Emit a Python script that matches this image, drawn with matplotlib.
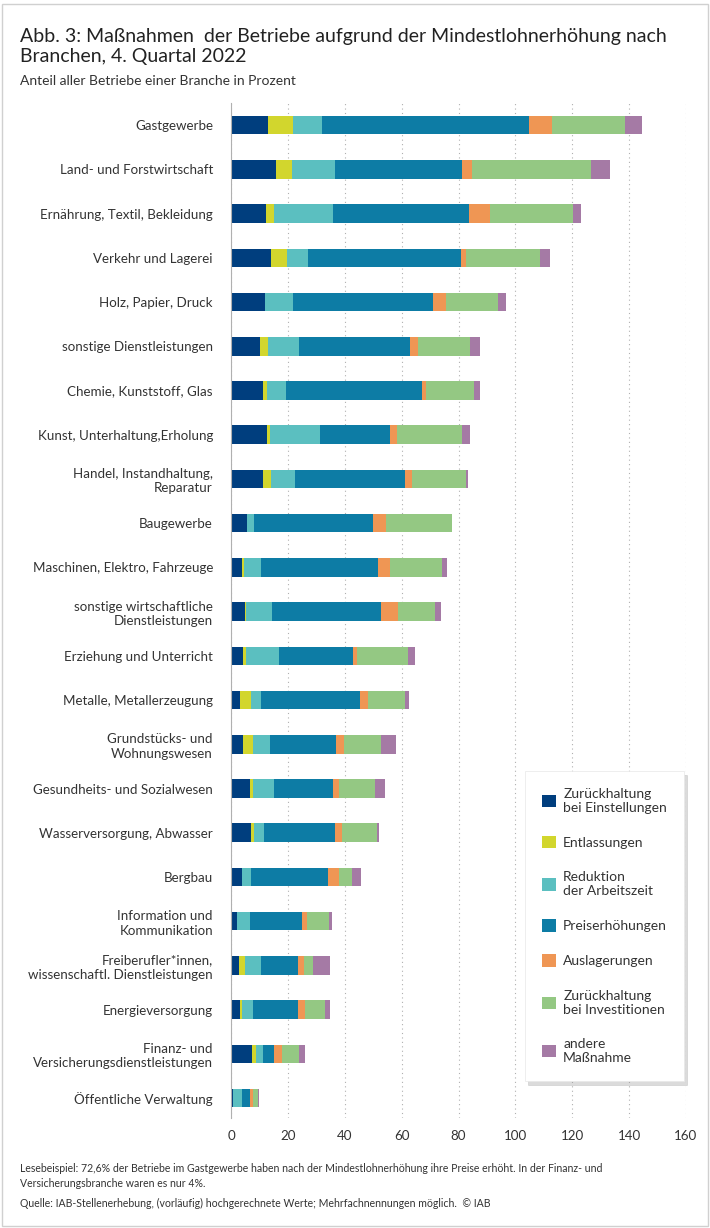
import matplotlib.pyplot as plt
from matplotlib.patches import Rectangle
import numpy as np

plt.rcParams['font.family'] = ['Lato', 'DejaVu Sans']

branchen = ['Gastgewerbe', 'Land- und Forstwirtschaft', 'Ernährung, Textil, Bekleidung',
            'Verkehr und Lagerei', 'Holz, Papier, Druck', 'sonstige Dienstleistungen',
            'Chemie, Kunststoff, Glas', 'Kunst, Unterhaltung,Erholung',
            'Handel, Instandhaltung,\nReparatur', 'Baugewerbe', 'Maschinen, Elektro, Fahrzeuge',
            'sonstige wirtschaftliche\nDienstleistungen', 'Erziehung und Unterricht',
            'Metalle, Metallerzeugung', 'Grundstücks- und\nWohnungswesen',
            'Gesundheits- und Sozialwesen', 'Wasserversorgung, Abwasser', 'Bergbau',
            'Information und\nKommunikation', 'Freiberufler*innen,\nwissenschaftl. Dienstleistungen',
            'Energieversorgung', 'Finanz- und\nVersicherungsdienstleistungen',
            'Öffentliche Verwaltung']

massnahmen = ['Zurückhaltung\nbei Einstellungen', 'Entlassungen', 'Reduktion\nder Arbeitszeit',
              'Preiserhöhungen', 'Auslagerungen', 'Zurückhaltung\nbei Investitionen',
              'andere\nMaßnahme']

einstellungen = [13.1, 15.8, 12.2, 14.1, 12.1, 10.3, 11.2, 12.5, 11.2, 5.7, 3.9, 4.8, 4.2,
                 3.3, 4.3, 6.8, 7.1, 3.9, 2.2, 2.9, 3.3, 7.5, 0.7]
entlassungen = [8.7, 5.6, 2.9, 5.6, 0.0, 2.8, 1.6, 1.3, 2.9, 0.0, 0.6, 0.6, 1.2,
                3.7, 3.4, 1.0, 1.1, 0.0, 0.0, 2.1, 0.7, 1.4, 0.0]
arbeitszeit = [10.3, 15.1, 20.7, 7.4, 9.7, 10.8, 6.5, 17.5, 8.5, 2.5, 6.0, 9.0, 11.5,
               3.7, 6.1, 7.4, 3.5, 3.2, 4.4, 5.7, 3.7, 2.3, 3.2]
preise = [72.6, 44.8, 47.9, 53.8, 49.4, 39.1, 47.7, 24.7, 38.7, 41.9, 41.3, 38.5, 26.0,
          34.7, 23.2, 20.8, 25.0, 27.1, 18.5, 13.0, 16.0, 4.0, 2.9]
auslagerungen = [8.1, 3.5, 7.5, 1.8, 4.4, 2.6, 1.5, 2.2, 2.4, 4.5, 4.2, 5.7, 1.4,
                 2.6, 2.7, 1.9, 2.2, 3.6, 1.5, 2.1, 2.4, 2.6, 0.9]
investitionen = [25.7, 41.7, 29.0, 25.8, 18.3, 18.5, 17.1, 23.1, 19.0, 23.1, 18.3, 13.3, 18.0,
                 13.3, 13.0, 12.7, 12.4, 4.7, 7.7, 3.1, 6.8, 6.1, 1.8]
andere = [6.2, 6.8, 2.9, 3.7, 2.8, 3.6, 2.0, 2.8, 0.7, 0.0, 1.7, 1.8, 2.5,
          1.2, 5.3, 3.6, 0.9, 3.1, 1.3, 5.8, 1.8, 2.0, 0.5]

farben = ['#003e7e', '#d2d62d', '#5bbfc0', '#0d7ca5', '#ef9654', '#94c883', '#a57aa5']
xticks = [0, 20, 40, 60, 80, 100, 120, 140, 160]

fig = plt.figure(figsize=(7.1, 12.28), dpi=100)
fig.patches.append(Rectangle((0.003, 0.002), 0.994, 0.995, transform=fig.transFigure,
                             fill=False, edgecolor='#d0d0d0', linewidth=1.0))

ax = fig.add_axes([0.3254, 0.0896, 0.6408, 0.8265])
y = np.arange(len(branchen))
serien = [einstellungen, entlassungen, arbeitszeit, preise, auslagerungen, investitionen, andere]
links = np.zeros(len(branchen))
for werte, farbe, name in zip(serien, farben, massnahmen):
    ax.barh(y, werte, left=links, height=0.42, color=farbe, label=name, zorder=3)
    links = links + np.array(werte)

ax.set_xlim(0, 160)
ax.set_ylim(22.45, -0.5)
ax.set_yticks(y)
ax.set_yticklabels(branchen, fontsize=9.6, color='#333333', linespacing=1.25)
ax.set_xticks(xticks)
ax.set_xticklabels([str(t) for t in xticks], fontsize=9.6, color='#333333')
ax.tick_params(axis='both', length=0, pad=9)
ax.tick_params(axis='y', pad=13)
ax.xaxis.grid(True, linestyle=(0, (1, 3)), color='#b0b0b0', linewidth=0.8, zorder=0)
for s in ['top', 'right', 'bottom']:
    ax.spines[s].set_visible(False)
ax.spines['left'].set_color('#b0b0b0')
ax.spines['left'].set_zorder(4)

# Legende als Kasten mit weichem Schatten
leg = ax.legend(loc='upper left', bbox_to_anchor=(525 / 710, 1 - 771 / 1228),
                bbox_transform=fig.transFigure,
                fontsize=10, frameon=True, fancybox=False, borderpad=1.2,
                labelspacing=1.6, handlelength=1.0, handleheight=1.0,
                handletextpad=0.55, borderaxespad=0,
                shadow={'color': '#999999', 'alpha': 0.35, 'ox': 2, 'oy': -3})
leg.get_frame().set_edgecolor('#e8e8e8')
leg.get_frame().set_linewidth(0.5)
for t in leg.get_texts():
    t.set_color('#333333')

fig.text(0.028, 0.977, 'Abb. 3: Maßnahmen  der Betriebe aufgrund der Mindestlohnerhöhung nach\nBranchen, 4. Quartal 2022',
         fontsize=14, color='#222222', va='top', ha='left', linespacing=1.2)
fig.text(0.028, 0.934, 'Anteil aller Betriebe einer Branche in Prozent', fontsize=10,
         color='#333333', va='center', ha='left')
fig.text(0.028, 1 - 1176 / 1228, 'Lesebeispiel: 72,6% der Betriebe im Gastgewerbe haben nach der Mindestlohnerhöhung ihre Preise erhöht. In der Finanz- und\nVersicherungsbranche waren es nur 4%.',
         fontsize=7.6, color='#333333', va='center', ha='left', linespacing=1.5)
fig.text(0.028, 1 - 1203 / 1228, 'Quelle: IAB-Stellenerhebung, (vorläufig) hochgerechnete Werte; Mehrfachnennungen möglich.  © IAB',
         fontsize=7.6, color='#333333', va='center', ha='left')

fig.savefig('out.png', dpi=100)
